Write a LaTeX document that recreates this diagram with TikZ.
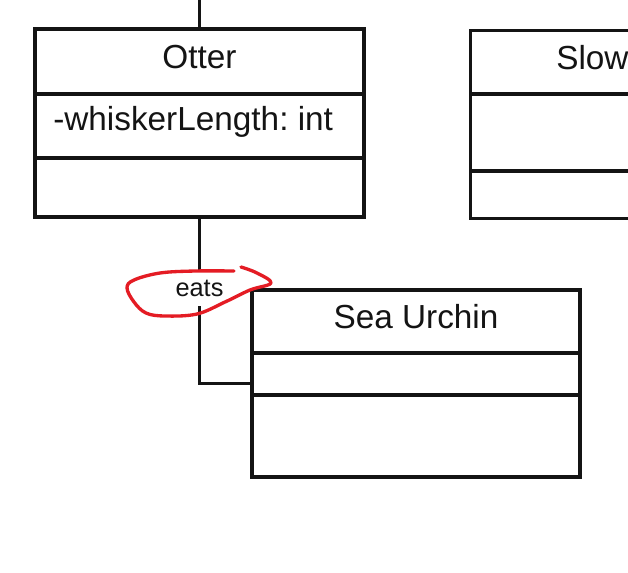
\documentclass[tikz,border=0pt]{standalone}
\usepackage{fontspec}
\setmainfont{Liberation Sans}
\frenchspacing
\definecolor{ink}{RGB}{20,20,20}
\definecolor{marker}{RGB}{228,28,36}
\begin{document}
\begin{tikzpicture}[x=0.75pt,y=-0.75pt,
  classbox/.style={draw=ink,line width=2.3pt,inner sep=0pt},
  divider/.style={draw=ink,line width=2.3pt},
  title/.style={font=\fontsize{25}{29}\selectfont,text=ink,inner sep=0pt},
  member/.style={font=\fontsize{25}{29}\selectfont,text=ink,inner sep=0pt,anchor=west},
  link/.style={draw=ink,line width=2.3pt},
  rolelabel/.style={font=\fontsize{19}{22}\selectfont,text=ink,fill=white,inner xsep=2pt,minimum height=27.5pt},
  scribble/.style={draw=marker,line width=2.5pt,line cap=round,line join=round}]
\useasboundingbox (0,0) rectangle (628,572);
\fill[white] (0,0) rectangle (628,572);
\begin{scope}
\clip (0,0) rectangle (628,572);

% Otter class
\node[classbox,minimum width=329*0.75pt,minimum height=188*0.75pt] (otter) at (199.5,123) {};
\draw[divider] (35,94) -- (364,94);
\draw[divider] (35,158) -- (364,158);
\node[title] (ottername) at (199.5,57) {Otter};
\node[member] (otterattr) at (53,122) {-whiskerLength: int};

% partially visible class on the right
\node[classbox,minimum width=300*0.75pt,minimum height=188*0.75pt,anchor=north west] (sloth) at (469,29) {};
\draw[divider] (469,94) -- (769,94);
\draw[divider] (469,171) -- (769,171);
\node[member] (slothname) at (556,58) {Slow};

% Sea Urchin class
\node[classbox,minimum width=328*0.75pt,minimum height=187*0.75pt] (urchin) at (416,383.5) {};
\draw[divider] (252,353) -- (580,353);
\draw[divider] (252,395) -- (580,395);
\node[title] (urchinname) at (416,317) {Sea Urchin};

% association lines
\coordinate (topend) at (199.5,0);
\draw[link] (topend) -- (otter.north);
\draw[link] (otter.south) |- (urchin.west);
\node[rolelabel] (eats) at (199.5,288) {eats};

% hand-drawn red mark around the label
\draw[scribble] plot[smooth,tension=0.6] coordinates {
  (234,271) (195,271) (160,273) (134,280) (127,288) (134,302)
  (146,313) (165,316) (197,314) (225,302) (250,290) (271,283) (257,273) (241,267)};
\end{scope}
\end{tikzpicture}
\end{document}
